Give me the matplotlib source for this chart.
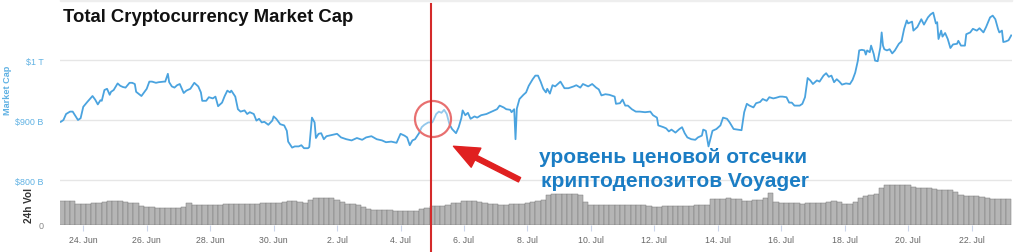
import matplotlib
matplotlib.use("Agg")
import matplotlib.pyplot as plt
import numpy as np
from matplotlib.patches import Ellipse, Rectangle
from matplotlib.lines import Line2D

plt.rcParams['font.family'] = ['Liberation Sans', 'DejaVu Sans']

# hours since 2022-06-23 00:00 and total market cap in $B
cap_hours = [7, 9, 11, 14, 16, 18, 20, 22, 24, 27, 29, 31, 33, 35, 37, 38, 40, 42, 44, 45,
             47, 50, 52, 54, 56, 59, 61, 63, 64, 68, 70, 72, 74, 76, 79, 81, 85, 86, 88, 89,
             91, 93, 95, 97, 100, 102, 105, 108, 111, 113, 114, 117, 119, 122, 124, 126, 129, 131, 133, 135,
             136, 139, 141, 143, 146, 148, 150, 153, 155, 157, 159, 161, 164, 167, 168, 170, 173, 176, 178, 179,
             182, 184, 187, 189, 191, 194, 195, 196, 197, 199, 200, 202, 204, 206, 208, 212, 216, 219, 223, 227,
             231, 235, 238, 242, 246, 250, 253, 257, 261, 264, 267, 269, 271, 273, 275, 278, 280, 282, 285, 288,
             289, 291, 293, 295, 297, 299, 301, 303, 306, 308, 310, 311, 313, 315, 317, 320, 322, 325, 329, 333,
             337, 339, 342, 344, 347, 348, 350, 351, 352, 354, 357, 359, 361, 364, 366, 368, 370, 372, 374, 375,
             377, 379, 381, 385, 388, 391, 395, 397, 400, 402, 406, 409, 412, 414, 416, 419, 422, 426, 427, 430,
             432, 434, 436, 439, 442, 445, 449, 453, 455, 458, 459, 463, 465, 467, 469, 472, 475, 477, 479, 481,
             484, 487, 489, 492, 493, 495, 497, 499, 500, 503, 506, 508, 511, 513, 516, 519, 522, 524, 526, 528,
             531, 533, 536, 538, 541, 543, 546, 548, 551, 553, 556, 558, 560, 562, 566, 568, 570, 572, 574, 576,
             579, 581, 584, 586, 588, 590, 592, 594, 596, 598, 601, 604, 606, 608, 610, 611, 613, 615, 616, 617,
             619, 620, 622, 623, 625, 627, 628, 629, 630, 632, 634, 636, 638, 641, 643, 645, 647, 648, 651, 652,
             655, 658, 660, 663, 665, 667, 669, 670, 671, 673, 674, 676, 678, 680, 682, 685, 686, 688, 691, 692,
             695, 697, 700, 702, 705, 707, 710, 712, 714, 716, 717, 719, 720, 722, 724, 726]
market_cap = [897, 900, 910, 914, 914, 907, 900, 903, 922, 930, 935, 940, 934, 926, 933, 932, 950, 952, 942, 947,
              950, 961, 957, 955, 954, 962, 962, 960, 947, 940, 946, 952, 964, 964, 962, 963, 964, 964, 977, 963,
              956, 954, 958, 960, 945, 949, 952, 962, 956, 946, 932, 932, 938, 936, 939, 923, 929, 940, 949, 946,
              949, 939, 918, 914, 916, 910, 913, 910, 899, 902, 896, 897, 892, 899, 906, 902, 893, 891, 882, 864,
              854, 856, 856, 858, 853, 853, 855, 880, 904, 896, 870, 877, 878, 868, 873, 875, 877, 871, 868, 866,
              870, 867, 871, 873, 868, 866, 863, 864, 862, 877, 874, 871, 858, 866, 868, 878, 888, 892, 896, 896,
              900, 910, 914, 912, 917, 910, 893, 885, 878, 888, 903, 916, 908, 912, 902, 906, 904, 908, 910, 914,
              918, 924, 921, 918, 917, 913, 918, 868, 919, 935, 942, 946, 957, 968, 974, 974, 964, 952, 946, 952,
              944, 958, 956, 964, 953, 953, 956, 958, 954, 960, 956, 960, 954, 951, 941, 943, 942, 939, 927, 928,
              934, 924, 924, 918, 914, 914, 913, 914, 908, 904, 891, 888, 886, 881, 884, 879, 885, 888, 878, 871,
              868, 867, 871, 874, 884, 882, 856, 873, 882, 885, 891, 904, 902, 896, 885, 884, 883, 913, 927, 924,
              921, 928, 930, 935, 932, 938, 936, 937, 939, 939, 938, 929, 929, 924, 924, 927, 938, 970, 966, 960,
              966, 964, 974, 978, 972, 974, 963, 968, 964, 959, 961, 960, 967, 979, 999, 1016, 1017, 1016, 1009, 1016,
              1013, 1024, 1010, 999, 998, 1021, 1046, 1024, 1018, 1016, 1018, 1011, 1016, 1027, 1031, 1052, 1066, 1061, 1064, 1049,
              1055, 1068, 1059, 1071, 1076, 1079, 1061, 1063, 1035, 1049, 1039, 1045, 1035, 1020, 1026, 1027, 1032, 1024, 1024, 1043,
              1046, 1052, 1049, 1053, 1046, 1055, 1071, 1074, 1068, 1052, 1046, 1049, 1030, 1031, 1033, 1041]

# 24h volume ($B), 4-hour bars starting at hour 8
vol_start_hour = 8
vol_step_hours = 4
volume = [57, 57, 57, 50, 50, 50, 54, 54, 56, 58, 58, 58, 56, 54, 52, 46, 44, 44, 42, 42,
          42, 42, 42, 44, 54, 48, 48, 48, 48, 48, 49, 50, 50, 50, 50, 50, 50, 51, 53, 54,
          54, 54, 55, 57, 57, 56, 53, 60, 65, 65, 65, 64, 61, 56, 50, 50, 48, 44, 38, 37,
          37, 36, 35, 34, 33, 33, 33, 33, 38, 42, 45, 46, 46, 48, 52, 54, 57, 58, 57, 56,
          52, 50, 50, 49, 49, 50, 50, 51, 53, 56, 57, 60, 72, 74, 74, 74, 74, 74, 73, 55,
          48, 48, 48, 48, 48, 48, 47, 47, 48, 48, 48, 45, 44, 44, 45, 45, 45, 45, 46, 46,
          47, 47, 48, 62, 63, 63, 64, 63, 62, 58, 58, 59, 60, 64, 76, 55, 53, 53, 52, 52,
          51, 53, 54, 54, 54, 55, 58, 56, 51, 50, 56, 64, 70, 72, 75, 90, 96, 96, 95, 96,
          95, 92, 90, 89, 90, 86, 85, 85, 84, 80, 72, 70, 69, 70, 68, 65, 63, 63, 62, 62]

tick_hours = [24, 72, 120, 168, 216, 264, 312, 360, 408, 456, 504, 552, 600, 648, 696]
tick_labels = ["24. Jun", "26. Jun", "28. Jun", "30. Jun", "2. Jul", "4. Jul", "6. Jul", "8. Jul",
               "10. Jul", "12. Jul", "14. Jul", "16. Jul", "18. Jul", "20. Jul", "22. Jul"]
cap_ticks = [800, 900, 1000]
cap_tick_labels = ["$800 B", "$900 B", "$1 T"]

W, H = 1024, 253
fig = plt.figure(figsize=(W / 100, H / 100), dpi=100)
fig.patch.set_facecolor('white')

def fx(px):
    return px / W

def fy(py):
    return 1 - py / H

left, right = fx(60), fx(1012)
x0, x1 = 6.4, 726.6

# volume pane
axv = fig.add_axes([left, fy(226), right - left, fy(181) - fy(226)])
vh = vol_start_hour + vol_step_hours * np.arange(len(volume))
axv.bar(vh, volume, width=vol_step_hours, color='#b5b5b5', edgecolor='#7a7a7a', linewidth=0.35)
axv.set_xlim(x0, x1)
axv.set_ylim(0, 108)
for s in axv.spines.values():
    s.set_visible(False)
axv.set_yticks([0])
axv.set_yticklabels(["0"], color='#888888', fontsize=6.5)
axv.tick_params(axis='y', length=0, pad=12)
axv.set_xticks(tick_hours)
axv.set_xticklabels(tick_labels, fontsize=6.3, color='#666666')
axv.tick_params(axis='x', length=4, color='#ccd6eb', width=0.8, pad=3)
axv.patch.set_alpha(0)

# price pane
axp = fig.add_axes([left, fy(226), right - left, fy(3) - fy(226)])
axp.patch.set_alpha(0)
axp.set_xlim(x0, x1)
axp.set_ylim(725, 1096.7)
for v in cap_ticks:
    axp.axhline(v, color='#e6e6e6', lw=1, zorder=0)
axp.plot(cap_hours, market_cap, color='#4aa3df', lw=1.3, zorder=3)
for s in axp.spines.values():
    s.set_visible(False)
axp.set_xticks([])
axp.set_yticks(cap_ticks)
axp.set_yticklabels(cap_tick_labels, color='#5fb1e3', fontsize=6.4)
axp.tick_params(axis='y', length=0, pad=12)

# top band
fig.patches.append(Rectangle((left, fy(2)), right - left, fy(0) - fy(2), transform=fig.transFigure,
                             color='#eeeeee', zorder=0))

# titles and axis labels
fig.text(fx(63), fy(18), "Total Cryptocurrency Market Cap", fontsize=13.3, fontweight='bold',
         color='#111111', ha='left', va='center')
fig.text(fx(8), fy(90), "Market Cap", rotation=90, fontsize=6.6, fontweight='bold',
         color='#5fb1e3', ha='center', va='center')
fig.text(fx(29), fy(206), "24h Vol", rotation=90, fontsize=7.2, fontweight='bold',
         color='#333333', ha='center', va='center')

# annotation overlays
fig.patches.append(Ellipse((fx(433), fy(120)), 36 / W, 36 / H, transform=fig.transFigure,
                           facecolor=(1, 1, 1, 0.4), edgecolor='#e87070', lw=1.6, zorder=5))
fig.lines.append(Line2D([fx(431), fx(431)], [0, fy(5)], transform=fig.transFigure,
                        color='#d42a2a', lw=1.5, zorder=6))
fig.text(fx(673), fy(158), "уровень ценовой отсечки", fontsize=15, fontweight='bold',
         color='#1b7dc4', ha='center', va='center')
fig.text(fx(675), fy(182), "криптодепозитов Voyager", fontsize=15, fontweight='bold',
         color='#1b7dc4', ha='center', va='center')
fig.patches.append(matplotlib.patches.FancyArrowPatch(
    (fx(522), fy(182)), (fx(451), fy(146)), transform=fig.transFigure,
    arrowstyle='simple,head_length=1.3,head_width=1.1,tail_width=0.25', mutation_scale=14,
    color='#e02020', zorder=7))

fig.savefig("out.png", dpi=100)
